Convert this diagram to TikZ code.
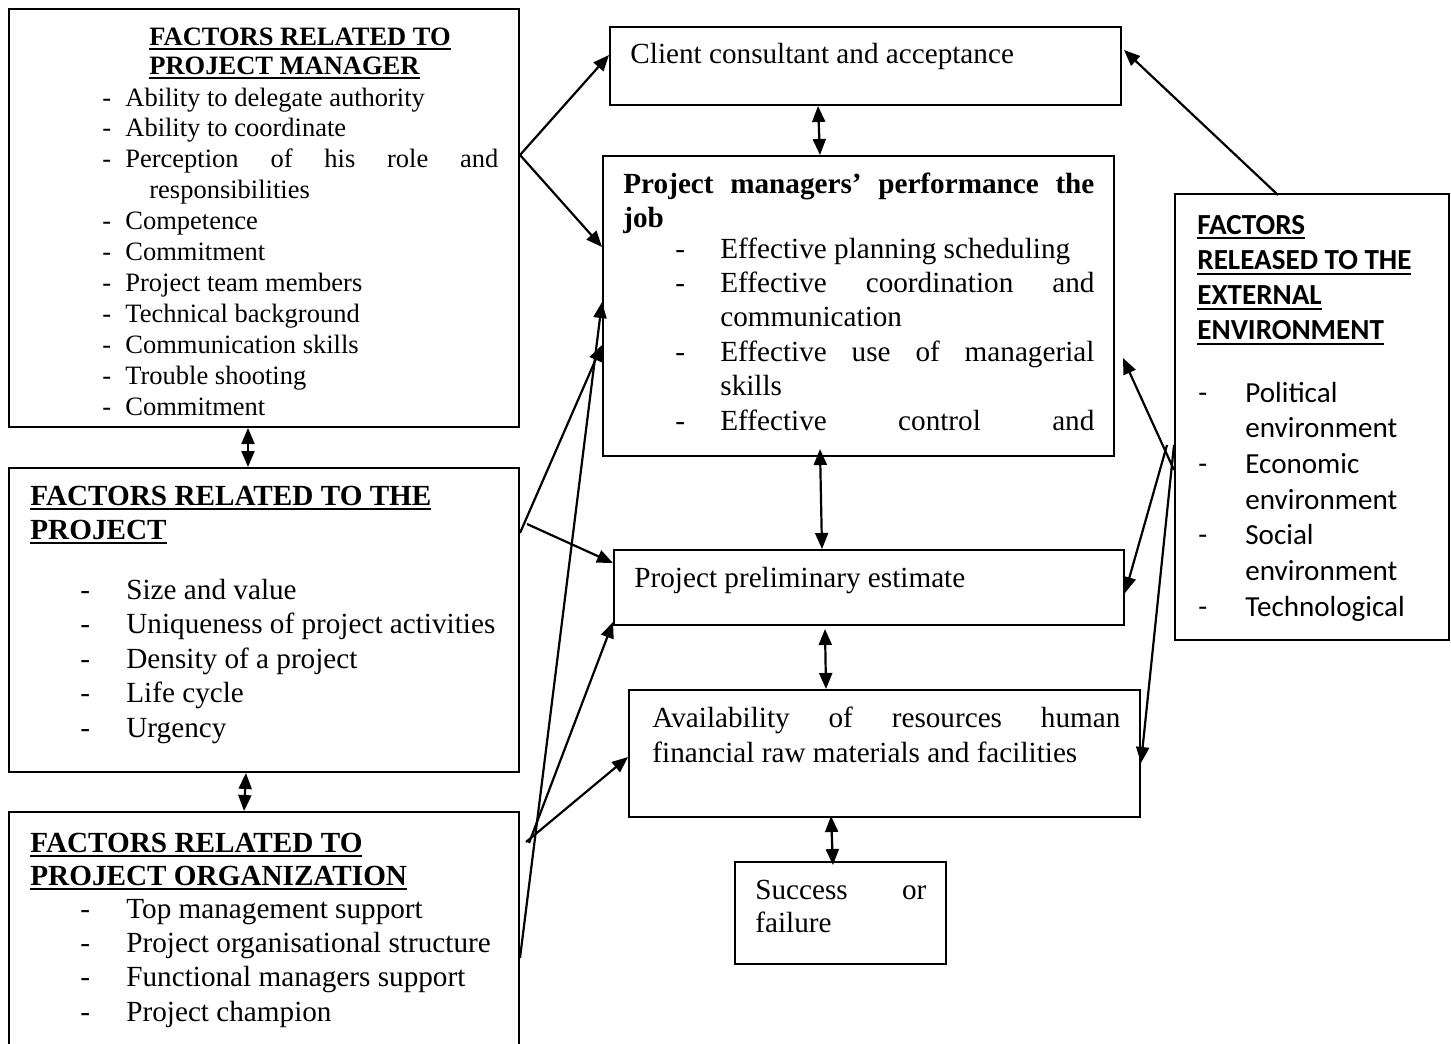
\documentclass[tikz,border=0pt]{standalone}
\usepackage{fontspec}
\setmainfont{Liberation Serif}
\newfontfamily\calib{Carlito}
\usetikzlibrary{arrows.meta,calc}

% underlined heading line: rule a little below the baseline, as wide as the text
\newcommand\ulbox[1]{\leavevmode\setbox0=\hbox{#1}\rlap{\vrule height -1.6pt depth 2.6pt width \wd0}\box0}
% list entry: a hyphen in a fixed-width slot, then the text
\newcommand\dashitem[2]{\leavevmode\makebox[#1][l]{-}#2}

\tikzset{
  panel/.style={draw, line width=1pt, inner sep=0pt},
  txt/.style={inner sep=0pt, anchor=base west},
  tip/.style={Triangle[length=8pt,width=6.5pt]},
  arr/.style={line width=1.1pt, -{Triangle[length=8pt,width=6.5pt]}},
  dbl/.style={line width=1.1pt, {Triangle[length=8pt,width=6.5pt]}-{Triangle[length=8pt,width=6.5pt]}},
}

\begin{document}
\begin{tikzpicture}[x=0.5pt,y=-0.5pt]
\useasboundingbox (0,0) rectangle (1451,1044);
\fill[white] (0,0) rectangle (1451,1044);

% ---------- boxes ----------
\node[panel, minimum width=255pt,   minimum height=209pt]  (pm)    at (264,218)    {};
\node[panel, minimum width=255pt,   minimum height=152pt]  (proj)  at (264,620)    {};
\node[panel, minimum width=255pt,   minimum height=119pt]  (org)   at (264,931)    {};
\node[panel, minimum width=255.5pt, minimum height=39pt]   (cca)   at (865.5,66)   {};
\node[panel, minimum width=255.5pt, minimum height=150pt]  (perf)  at (858.5,306)  {};
\node[panel, minimum width=255pt,   minimum height=37.5pt] (est)   at (869,587.5)  {};
\node[panel, minimum width=255.5pt, minimum height=63.5pt] (avail) at (884.5,753.5){};
\node[panel, minimum width=105.5pt, minimum height=51pt]   (succ)  at (840.5,913)  {};
\node[panel, minimum width=137pt,   minimum height=223pt]  (ext)   at (1312,417)   {};

% ---------- project manager factors ----------
\node[txt] (pmHead) at (149,45) {\parbox[t]{220pt}{\fontsize{13.25}{14.5}\selectfont\bfseries
  \ulbox{FACTORS RELATED TO}\\
  \ulbox{PROJECT MANAGER}}};
\node[txt] (pmList) at (102,106) {\parbox[t]{230pt}{\fontsize{13.25}{15.45}\selectfont
  \dashitem{11.5pt}{Ability to delegate authority}\\
  \dashitem{11.5pt}{Ability to coordinate}\\
  \dashitem{11.5pt}{\makebox[186.5pt][s]{Perception of his role and}}\\
  \hspace*{23.5pt}responsibilities\\
  \dashitem{11.5pt}{Competence}\\
  \dashitem{11.5pt}{Commitment}\\
  \dashitem{11.5pt}{Project team members}\\
  \dashitem{11.5pt}{Technical background}\\
  \dashitem{11.5pt}{Communication skills}\\
  \dashitem{11.5pt}{Trouble shooting}\\
  \dashitem{11.5pt}{Commitment}}};

% ---------- project factors ----------
\node[txt] (projHead) at (30,505) {\parbox[t]{240pt}{\fontsize{14.6}{17}\selectfont\bfseries
  \ulbox{FACTORS RELATED TO THE}\\
  \ulbox{PROJECT}}};
\node[txt] (projList) at (80,599) {\parbox[t]{230pt}{\fontsize{14.6}{17.25}\selectfont
  \dashitem{23pt}{Size and value}\\
  \dashitem{23pt}{Uniqueness of project activities}\\
  \dashitem{23pt}{Density of a project}\\
  \dashitem{23pt}{Life cycle}\\
  \dashitem{23pt}{Urgency}}};

% ---------- organization factors ----------
\node[txt] (orgHead) at (30,852) {\parbox[t]{240pt}{\fontsize{14.6}{16.5}\selectfont\bfseries
  \ulbox{FACTORS RELATED TO}\\
  \ulbox{PROJECT ORGANIZATION}}};
\node[txt] (orgList) at (80,918) {\parbox[t]{230pt}{\fontsize{14.6}{17.2}\selectfont
  \dashitem{23pt}{Top management support}\\
  \dashitem{23pt}{Project organisational structure}\\
  \dashitem{23pt}{Functional managers support}\\
  \dashitem{23pt}{Project champion}}};

% ---------- centre column ----------
\node[txt] (ccaText) at (630,63) {\fontsize{14.6}{17.2}\selectfont Client consultant and acceptance};

\node[txt] (perfHead) at (623,193) {\parbox[t]{240pt}{\fontsize{14.6}{17}\selectfont\bfseries
  \makebox[235.5pt][s]{Project managers' performance the}\\
  job}};
\node[txt] (perfList) at (675,258) {\parbox[t]{220pt}{\fontsize{14.6}{17.2}\selectfont
  \dashitem{22.5pt}{Effective planning scheduling}\\
  \dashitem{22.5pt}{\makebox[187pt][s]{Effective coordination and}}\\
  \hspace*{22.5pt}communication\\
  \dashitem{22.5pt}{\makebox[187pt][s]{Effective use of managerial}}\\
  \hspace*{22.5pt}skills\\
  \dashitem{22.5pt}{\makebox[187pt][s]{Effective control and}}}};

\node[txt] (estText) at (634,587) {\fontsize{14.6}{17.2}\selectfont Project preliminary estimate};

\node[txt] (availText) at (652,727) {\parbox[t]{240pt}{\fontsize{14.6}{17.5}\selectfont
  \makebox[234pt][s]{Availability of resources human}\\
  financial raw materials and facilities}};

\node[txt] (succText) at (755,899) {\parbox[t]{100pt}{\fontsize{14.6}{16.5}\selectfont
  \makebox[85.5pt][s]{Success or}\\
  failure}};

% ---------- external environment ----------
\node[txt] (extHead) at (1197,234) {\parbox[t]{130pt}{\calib\fontsize{14.55}{17.65}\selectfont\bfseries
  \ulbox{FACTORS}\\
  \ulbox{RELEASED TO THE}\\
  \ulbox{EXTERNAL}\\
  \ulbox{ENVIRONMENT}}};
\node[txt] (extList) at (1198,402) {\parbox[t]{130pt}{\calib\fontsize{14.55}{17.85}\selectfont
  \dashitem{23.5pt}{Political}\\
  \hspace*{23.5pt}environment\\
  \dashitem{23.5pt}{Economic}\\
  \hspace*{23.5pt}environment\\
  \dashitem{23.5pt}{Social}\\
  \hspace*{23.5pt}environment\\
  \dashitem{23.5pt}{Technological}}};

% ---------- connectors ----------
% project manager factors
\draw[arr] (pm.east |- 0,155) -- (cca.west |- 0,55);
\draw[arr] (pm.east |- 0,155) -- (perf.west |- 0,247);
\draw[dbl] (pm.south -| 248,0) -- (proj.north -| 248,0);
% project factors
\draw[dbl] (proj.south -| 246,0) -- (org.north -| 244,0);
\draw[arr] (proj.east |- 0,533) -- (perf.west |- 0,345);
\draw[arr] ($(proj.east |- 0,524)+(7,0)$) -- (est.west |- 0,563);
% organization factors
\draw[arr] (org.east |- 0,958) -- (perf.west |- 0,302);
\draw[arr] ($(org.east |- 0,843)+(9,0)$) -- (est.west |- 0,622);
\draw[arr] ($(org.east |- 0,842)+(6,0)$) -- (avail.west |- 0,757);
% centre chain
\draw[dbl] (cca.south -| 818,0) -- (perf.north -| 820,0);
\draw[dbl] ($(perf.south -| 820,0)+(0,-8)$) -- (est.north -| 822,0);
\draw[dbl] ($(est.south -| 825,0)+(0,3)$) -- (avail.north -| 826,0);
\draw[dbl] ($(avail.south -| 831,0)+(0,-2)$) -- ($(succ.north -| 833,0)+(0,4)$);
% external environment
\draw[arr] ($(ext.north -| 1278,0)+(0,2)$) -- ($(cca.east |- 0,50)+(2,0)$);
\draw[arr] (ext.west |- 0,470) -- ($(perf.east |- 0,358)+(8,0)$);
\draw[arr] ($(ext.west |- 0,445)+(-7,0)$) -- (est.east |- 0,593);
\draw[arr] (ext.west |- 0,445) -- (avail.east |- 0,763);
\end{tikzpicture}
\end{document}
